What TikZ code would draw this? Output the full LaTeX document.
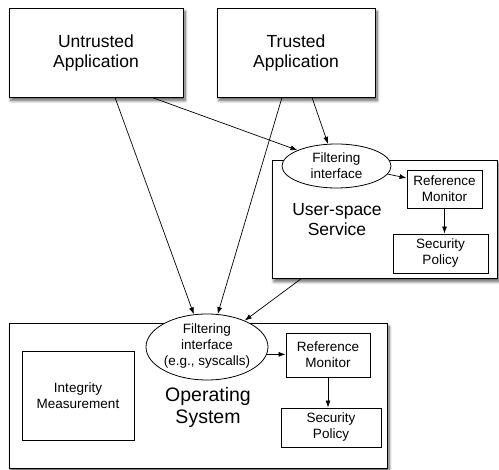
\documentclass[tikz,border=0pt]{standalone}
\usepackage{fontspec}
\setmainfont{Liberation Sans}
\usetikzlibrary{arrows.meta,shapes.geometric,shadows.blur}
\begin{document}
\begin{tikzpicture}[x=1pt,y=-1pt,
  box/.style={draw,line width=0.9pt,fill=white,align=center,inner sep=0pt},
  shadowbox/.style={box,blur shadow={shadow xshift=2pt,shadow yshift=-3.5pt,shadow blur radius=3pt,shadow blur steps=8,shadow opacity=65}},
  big/.style={font=\fontsize{17.5}{20}\selectfont},
  huge/.style={font=\fontsize{19.5}{22}\selectfont},
  small/.style={font=\fontsize{13.5}{16}\selectfont},
  oval/.style={ellipse,draw,line width=0.8pt,fill=white,inner sep=0pt},
  plain/.style={align=center,inner sep=0pt},
  arr/.style={-{Latex[length=7pt,width=5pt]},line width=0.7pt}]
\useasboundingbox (0,0) rectangle (499,470);

% top applications
\node[shadowbox,big,minimum width=174pt,minimum height=89pt] (ua) at (96,52.5) {Untrusted\\Application};
\node[shadowbox,big,minimum width=158pt,minimum height=89pt] (ta) at (296,52.5) {Trusted\\Application};

% user-space service
\node[shadowbox,minimum width=225pt,minimum height=118pt] (us) at (384.5,219) {};
\node[plain,big] (ust) at (337,220) {User-space\\Service};
\node[oval,minimum width=109pt,minimum height=44pt] (tf) at (336.5,166) {};
\node[plain,small] (tft) at (336.5,166) {Filtering\\interface};
\node[box,small,minimum width=75pt,minimum height=38pt] (rm1) at (444.5,189) {Reference\\Monitor};
\node[box,small,minimum width=95pt,minimum height=39pt] (sp1) at (440.5,253.5) {Security\\Policy};

% operating system
\node[shadowbox,minimum width=378pt,minimum height=145pt] (os) at (198,395.5) {};
\node[plain,huge] (ost) at (208,407) {Operating\\System};
\node[oval,minimum width=122pt,minimum height=66pt] (osf) at (207,347) {};
\node[plain,small] (osft) at (207,346) {Filtering\\interface\\(e.g., syscalls)};
\node[box,small,minimum width=84pt,minimum height=44pt] (rm2) at (328,355) {Reference\\Monitor};
\node[box,small,minimum width=100pt,minimum height=39pt] (sp2) at (331,427.5) {Security\\Policy};
\node[box,small,minimum width=112pt,minimum height=89pt] (im) at (78,395.5) {Integrity\\Measurement};

% connectors
\draw[arr] ([xshift=19pt]ua.south) -- (osf.112);
\draw[arr] ([xshift=56pt]ua.south) -- (tf.158);
\draw[arr] ([xshift=-14pt]ta.south) -- (osf.72);
\draw[arr] ([xshift=16pt]ta.south) -- (tf.111);
\draw[arr] ([xshift=30pt]us.south west) -- (osf.35);
\draw[arr] (tf.-9) -- ([yshift=11pt]rm1.west);
\draw[arr] (rm1.south) -- (rm1.south |- sp1.north);
\draw[arr] (osf.-7) -- (osf.-7 -| rm2.west);
\draw[arr] (rm2.south) -- (rm2.south |- sp2.north);
\end{tikzpicture}
\end{document}
